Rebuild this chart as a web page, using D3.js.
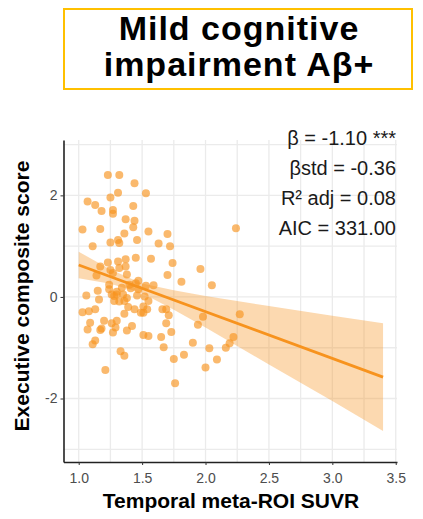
<!DOCTYPE html>
<html>
<head>
<meta charset="utf-8">
<script src="https://cdn.jsdelivr.net/npm/d3@7"></script>
<style>
  body { margin: 0; background: #fff; }
  svg { font-family: "Liberation Sans", Arial, sans-serif; }
</style>
</head>
<body>
<div id="chart"></div>
<script>
// title
const titleLines = ["Mild cognitive", "impairment Aβ+"];

// scatter: temporal meta-ROI SUVR vs executive composite score
const suvr = [1.23, 1.32, 1.44, 1.53, 1.31, 1.25, 1.07, 1.13, 1.18, 1.27, 1.27, 1.43, 1.37, 1.44, 1.43, 1.03,
  1.17, 1.55, 1.70, 1.36, 1.46, 1.25, 1.31, 1.32, 1.63, 1.72, 2.24, 1.11, 1.45, 1.37, 1.57, 1.74, 1.31, 1.23,
  1.96, 1.17, 1.14, 1.27, 1.38, 1.70, 1.81, 2.05, 1.24, 1.24, 1.40, 1.45, 1.47, 1.53, 1.59, 1.41, 1.47, 1.15,
  1.06, 1.26, 1.30, 1.35, 1.38, 1.46, 1.52, 1.16, 1.28, 1.32, 1.36, 1.55, 1.39, 1.44, 1.51, 1.54, 1.51, 1.49,
  1.03, 1.08, 1.13, 1.36, 1.66, 1.69, 1.71, 1.69, 2.27, 1.98, 1.94, 1.09, 1.07, 1.20, 1.18, 1.17, 1.26, 1.30,
  1.29, 1.42, 1.38, 1.27, 1.73, 1.51, 1.55, 1.65, 1.13, 1.11, 1.90, 2.22, 2.19, 2.16, 1.67, 2.03, 1.33, 1.36,
  1.75, 1.83, 2.09, 2.00, 1.21, 1.76, 1.30, 1.34, 1.28, 1.37, 1.25, 1.32];
const executive = [2.40, 2.40, 2.24, 2.04, 2.05, 1.96, 1.88, 1.81, 1.69, 1.71, 1.64, 1.79, 1.53, 1.50, 1.37, 1.33,
  1.34, 1.29, 1.24, 1.25, 1.12, 1.07, 1.12, 1.06, 1.05, 1.00, 1.35, 1.00, 0.77, 0.74, 0.75, 0.67, 0.70, 0.68,
  0.55, 0.60, 0.42, 0.47, 0.44, 0.43, 0.30, 0.23, 0.24, 0.15, 0.24, 0.27, 0.32, 0.22, 0.23, 0.17, 0.15, 0.12,
  0.03, 0.05, 0.05, 0.05, -0.02, 0.03, 0.01, -0.05, -0.08, -0.09, -0.08, -0.08, -0.20, -0.24, -0.19, -0.24, -0.31, -0.31,
  -0.30, -0.28, -0.24, -0.33, -0.24, -0.24, -0.36, -0.52, -0.34, -0.39, -0.55, -0.51, -0.64, -0.47, -0.62, -0.65, -0.52, -0.47,
  -0.60, -0.57, -0.66, -0.70, -0.69, -0.75, -0.77, -0.79, -0.86, -0.93, -0.90, -0.79, -0.91, -1.00, -0.99, -1.01, -1.07, -1.16,
  -1.22, -1.14, -1.23, -1.39, -1.44, -1.70, 0.10, 0.18, 0.02, 0.60, 0.53, 0.57];

// fitted line and 95% band
const fitX = [1.0, 3.4];
const fitY = [0.63, -1.58];
const bandX = [1.0, 1.25, 1.5, 1.75, 2.0, 2.5, 3.0, 3.4];
const bandLow = [0.37, 0.26, 0.075, -0.25, -0.60, -1.33, -2.05, -2.64];
const bandHigh = [0.89, 0.54, 0.265, 0.13, 0.02, -0.18, -0.37, -0.52];

// model stats
const statLines = ["β = -1.10 ***", "βstd = -0.36", "R² adj = 0.08", "AIC = 331.00"];

// axes
const xTicks = [1.0, 1.5, 2.0, 2.5, 3.0, 3.5];
const xGrid = [1.0, 1.25, 1.5, 1.75, 2.0, 2.25, 2.5, 2.75, 3.0, 3.25, 3.5];
const yTicks = [-2, 0, 2];
const yGrid = [-3, -2, -1, 0, 1, 2, 3];
const xTitle = "Temporal meta-ROI SUVR";
const yTitle = "Executive composite score";

const width = 423, height = 519;
const orange = "#f7931e";

const svg = d3.select("#chart").append("svg")
  .attr("width", width)
  .attr("height", height);

const x = d3.scaleLinear().domain([0.88, 3.51]).range([63.5, 397]);
const y = d3.scaleLinear().domain([-3.25, 3.09]).range([462, 140]);

// title box
svg.append("rect")
  .attr("x", 64).attr("y", 9)
  .attr("width", 348).attr("height", 80)
  .attr("fill", "none")
  .attr("stroke", "#ffc000")
  .attr("stroke-width", 2);

svg.selectAll(".title")
  .data(titleLines)
  .enter()
  .append("text")
  .attr("class", "title")
  .attr("x", 239)
  .attr("y", (d, i) => 40 + i * 36)
  .attr("text-anchor", "middle")
  .style("font-size", "34px")
  .style("letter-spacing", "1px")
  .style("font-weight", "bold")
  .style("fill", "#000")
  .text((d) => d);

// grid
svg.selectAll(".vgrid")
  .data(xGrid)
  .enter()
  .append("line")
  .attr("x1", (d) => x(d)).attr("x2", (d) => x(d))
  .attr("y1", y.range()[1]).attr("y2", y.range()[0])
  .attr("stroke", "#ebebeb")
  .attr("stroke-width", 1.3);

svg.selectAll(".hgrid")
  .data(yGrid)
  .enter()
  .append("line")
  .attr("x1", x.range()[0]).attr("x2", x.range()[1])
  .attr("y1", (d) => y(d)).attr("y2", (d) => y(d))
  .attr("stroke", "#ebebeb")
  .attr("stroke-width", 1.3);

// band
const area = d3.area()
  .x((d, i) => x(bandX[i]))
  .y0((d, i) => y(bandLow[i]))
  .y1((d, i) => y(bandHigh[i]));

svg.append("path")
  .datum(bandX)
  .attr("d", area)
  .attr("fill", orange)
  .attr("fill-opacity", 0.35);

// points
svg.selectAll(".pt")
  .data(suvr)
  .enter()
  .append("circle")
  .attr("class", "pt")
  .attr("cx", (d) => x(d))
  .attr("cy", (d, i) => y(executive[i]))
  .attr("r", 4)
  .attr("fill", orange)
  .attr("fill-opacity", 0.65);

// fit line
svg.append("path")
  .datum(fitX)
  .attr("d", d3.line().x((d) => x(d)).y((d, i) => y(fitY[i])))
  .attr("fill", "none")
  .attr("stroke", orange)
  .attr("stroke-width", 2.8);

// axes
const xAxis = svg.append("g")
  .attr("transform", `translate(0,${y.range()[0]})`)
  .call(d3.axisBottom(x).tickValues(xTicks).tickFormat(d3.format(".1f")).tickSize(3).tickSizeOuter(0));
const yAxis = svg.append("g")
  .attr("transform", `translate(${x.range()[0]},0)`)
  .call(d3.axisLeft(y).tickValues(yTicks).tickFormat((d) => String(d)).tickSize(3).tickSizeOuter(0));

[xAxis, yAxis].forEach((g) => {
  g.select(".domain").attr("stroke", "#222").attr("stroke-width", 1.6);
  g.selectAll(".tick line").attr("stroke", "#333");
  g.selectAll(".tick text")
    .style("font-family", "Liberation Sans, Arial, sans-serif")
    .style("font-size", "14px")
    .style("fill", "#4d4d4d");
});
xAxis.selectAll(".tick text").attr("dy", "1.05em");
yAxis.selectAll(".tick text").attr("x", -6);

// stats
svg.selectAll(".stat")
  .data(statLines)
  .enter()
  .append("text")
  .attr("class", "stat")
  .attr("x", 396)
  .attr("y", (d, i) => 145 + i * 30)
  .attr("text-anchor", "end")
  .style("font-size", "20px")
  .style("fill", "#1a1a1a")
  .text((d) => d);

// axis titles
svg.append("text")
  .attr("x", 231)
  .attr("y", 508)
  .attr("text-anchor", "middle")
  .style("font-size", "21px")
  .style("font-weight", "bold")
  .text(xTitle);

svg.append("text")
  .attr("transform", "translate(29,296) rotate(-90)")
  .attr("text-anchor", "middle")
  .style("font-size", "21px")
  .style("font-weight", "bold")
  .text(yTitle);
</script>
</body>
</html>
